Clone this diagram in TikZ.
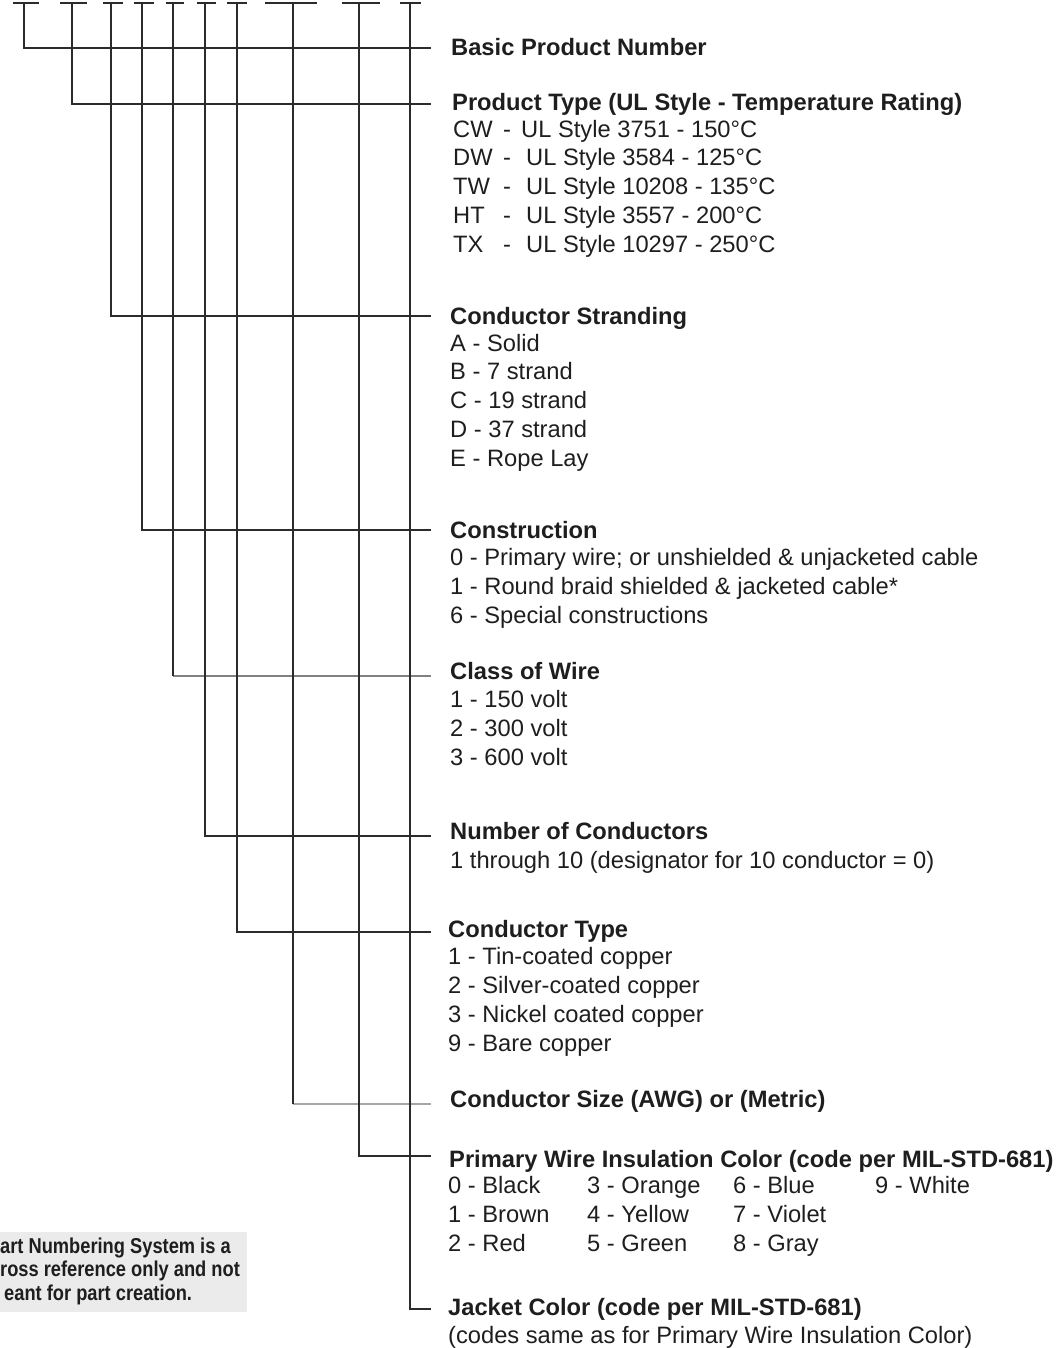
\documentclass[tikz,border=0pt]{standalone}
\usepackage{fontspec}
\setmainfont{Liberation Sans}
\newfontfamily\narrowfont[FakeStretch=0.85]{Liberation Sans}
\usetikzlibrary{positioning}
\definecolor{wirecol}{HTML}{2B2B2B}
\definecolor{notecol}{HTML}{EBEBEB}
\definecolor{textcol}{HTML}{1E1E1E}
\tikzset{% styles of the code chart
        wire/.style={draw=wirecol, line width=2pt},
        faint/.style={draw=black!50, line width=2pt},
        fainter/.style={draw=black!35, line width=2pt},
        head/.style={anchor=base west, inner sep=0pt, text=textcol,
                font=\fontsize{23.7}{28.7}\selectfont\bfseries},
        items/.style={anchor=base west, inner sep=0pt, align=left, text=textcol,
                font=\fontsize{23.7}{28.7}\selectfont}
        }

\begin{document}
\begin{tikzpicture}[x=1pt,y=-1pt]
\useasboundingbox (0,0) rectangle (1057,1348);
% dashes of the part number
\foreach \a/\b/\m/\n in {13/39/24/1, 60/87/72/2, 103/123/111/3, 134/154/142/4,
        166/184/173/5, 197/216/205/6, 227/247/237/7, 265/317/293/8,
        342/380/359/9, 400/421/410/10}{
  \draw [wire] (\a,3) -- (\b,3);
  \coordinate (t\n) at (\m,3);
}
\foreach \n/\y in {1/48, 2/104, 3/316, 4/530, 5/676, 6/836, 7/932, 8/1104, 9/1156, 10/1309}
  \coordinate (e\n) at (431,\y);
% the two lighter leads first, the dark ones over them
\foreach \n/\s in {5/faint, 8/fainter}{
  \draw [\s] (t\n |- e\n) -- (e\n);
  \draw [wire] (t\n) -- (t\n |- e\n);
}
\foreach \n in {1,2,3,4,6,7,9,10}
  \draw [wire] (t\n) |- (e\n);

% multi-line lists sit on the baseline of their last line
\node [head] (basic) at (451,56) {Basic Product Number};
\node [head] (ptype) at (452,111) {Product Type (UL Style - Temperature Rating)};
\node [items] (ptypelist) at (453,252) {%
  \makebox[50pt][l]{CW}\makebox[18pt][l]{-}UL Style 3751 - 150°C\\
  \makebox[50pt][l]{DW}\makebox[23pt][l]{-}UL Style 3584 - 125°C\\
  \makebox[50pt][l]{TW}\makebox[23pt][l]{-}UL Style 10208 - 135°C\\
  \makebox[50pt][l]{HT}\makebox[23pt][l]{-}UL Style 3557 - 200°C\\
  \makebox[50pt][l]{TX}\makebox[23pt][l]{-}UL Style 10297 - 250°C};

\node [head] (strand) at (450,324) {Conductor Stranding};
\node [items] (strandlist) at (450,466) {A - Solid\\B - 7 strand\\C - 19 strand\\D - 37 strand\\E - Rope Lay};

\node [head] (constr) at (450,538) {Construction};
\node [items] (constrlist) at (450,623) {0 - Primary wire; or unshielded \& unjacketed cable\\
  1 - Round braid shielded \& jacketed cable*\\6 - Special constructions};

\node [head] (class) at (450,679) {Class of Wire};
\node [items] (classlist) at (450,765) {1 - 150 volt\\2 - 300 volt\\3 - 600 volt};

\node [head] (ncond) at (450,839) {Number of Conductors};
\node [items] (ncondlist) at (450,868) {1 through 10 (designator for 10 conductor = 0)};

\node [head] (ctype) at (448,937) {Conductor Type};
\node [items] (ctypelist) at (448,1051) {1 - Tin-coated copper\\2 - Silver-coated copper\\
  3 - Nickel coated copper\\9 - Bare copper};

\node [head] (csize) at (450,1107) {Conductor Size (AWG) or (Metric)};

\node [head] (pcolor) at (449,1167) {Primary Wire Insulation Color (code per MIL-STD-681)};
\node [items] (pcolorlist) at (448,1251) {%
  \makebox[139pt][l]{0 - Black}\makebox[146pt][l]{3 - Orange}\makebox[142pt][l]{6 - Blue}9 - White\\
  \makebox[139pt][l]{1 - Brown}\makebox[146pt][l]{4 - Yellow}7 - Violet\\
  \makebox[139pt][l]{2 - Red}\makebox[146pt][l]{5 - Green}8 - Gray};

\node [head] (jcolor) at (448,1315) {Jacket Color (code per MIL-STD-681)};
\node [items] (jcolorlist) at (448,1343) {(codes same as for Primary Wire Insulation Color)};

% note box, cut at the left edge
\fill [notecol] (0,1232) rectangle (247,1312);
\node [anchor=base west, inner sep=0pt, align=left, text=textcol,
  font=\narrowfont\fontsize{21.5}{23.5}\selectfont\bfseries] (note) at (0,1300)
  {art Numbering System is a\\ross reference only and not\\\hspace*{4pt}eant for part creation.};
\end{tikzpicture}
\end{document}
